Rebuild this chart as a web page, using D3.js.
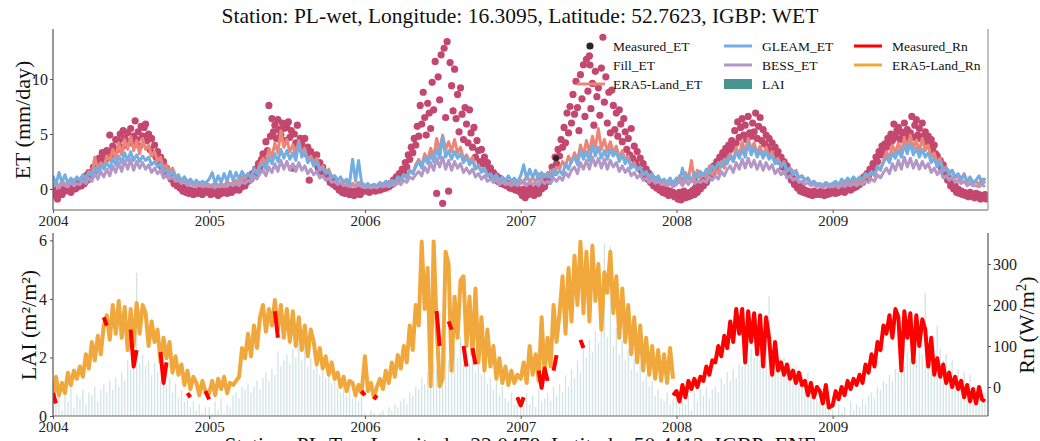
<!DOCTYPE html>
<html><head><meta charset="utf-8">
<script src="https://cdn.jsdelivr.net/npm/d3@7"></script>
<style>body{margin:0;background:#fff}svg{display:block}</style>
</head><body><svg id="c" width="1040" height="441"></svg>
<script>
const N = null;
const years = [2004, 2005, 2006, 2007, 2008, 2009];
const etTicks = [0, 5, 10];
const laiTicks = [0, 2, 4, 6];
const rnTicks = [0, 100, 200, 300];
const titleText = "Station: PL-wet, Longitude: 16.3095, Latitude: 52.7623, IGBP: WET";
const nextTitleText = "Station: PL-Tcz, Longitude: 22.0478, Latitude: 50.4412, IGBP: ENF";

// weekly values, 52 per year (2004..2009)
const era5ET = [
0.3,0.6,0.2,0.8,0.4,0.5,0.9,0.6,1.0, 0.8,1.2,0.9,1.6, 1.3,2.9,1.8,2.4,2.0, 3.0,2.6,3.6,2.8, 4.2,3.1,4.5,3.6, 4.8,3.5,4.4,3.2,4.6, 3.6,4.0,3.0,3.4, 2.5,2.9,1.9,2.2, 1.6,1.9,1.2,1.0, 0.8,1.1,0.6,0.7,0.5, 0.4,0.6,0.3,0.5,
0.4,0.2,0.6,0.3,0.5,0.2,0.7,0.4,0.6, 0.8,0.5,1.1,0.9, 1.4,1.0,1.8,1.5,2.3, 2.8,2.2,3.6,2.9, 4.2,3.3,5.3,3.8, 4.5,3.4,4.0,3.1,4.4, 3.2,3.7,2.6,3.0, 2.4,2.8,1.8,2.1, 1.5,1.8,1.1,1.2, 0.8,1.0,0.6,0.7,0.4, 0.5,0.3,0.6,0.4,
0.2,0.4,0.1,0.3,0.2,0.5,0.3,0.6,0.4, 0.7,0.5,1.0,0.8, 1.3,1.0,1.7,1.4,2.2, 2.7,2.1,3.2,2.6, 3.7,2.9,4.6,3.5, 4.9,3.6,4.3,3.4,4.5, 3.3,3.8,2.7,3.1, 2.5,2.9,1.9,2.2, 1.6,1.9,1.2,1.3, 0.9,1.1,0.7,0.8,0.5, 0.6,0.4,0.7,0.5,
0.8,0.5,1.2,0.7,1.0,0.6,1.4,0.9,1.3, 1.1,1.7,1.3,2.0, 1.8,2.5,2.1,3.0,2.4, 3.3,2.6,4.0,3.1, 4.4,3.3,4.8,3.7, 5.5,3.6,4.5,3.4,4.3, 3.3,3.9,2.8,3.5, 2.6,3.0,2.0,2.4, 1.7,2.0,1.3,1.5, 1.0,1.3,0.8,0.9,0.6, 0.7,0.5,0.8,0.4,
0.6,1.2,0.7,1.5,0.9,2.6,0.8,1.7,1.0, 1.4,1.0,2.1,1.3, 1.8,1.4,2.5,1.9,2.8, 3.2,2.5,3.8,3.0, 4.3,3.3,4.6,3.6, 4.2,3.2,3.9,3.0,3.8, 2.9,3.4,2.4,2.8, 2.1,2.5,1.6,1.9, 1.4,1.7,1.0,1.2, 0.8,1.0,0.5,0.7,0.4, 0.5,0.3,0.6,0.3,
0.3,0.5,0.2,0.6,0.4,0.7,0.3,0.8,0.5, 0.9,0.6,1.2,1.0, 1.5,1.2,2.0,1.7,2.6, 3.4,2.8,4.0,3.3, 4.2,3.4,4.7,3.6, 4.9,3.7,4.4,3.4,4.6, 3.5,4.0,2.9,3.3, 2.4,2.8,1.7,2.0, 1.4,1.7,1.0,1.2, 0.8,1.4,0.6,0.9,0.5, 0.7,0.4,0.9,0.5
];
const gleamET = [
1.2,0.4,1.5,0.6,1.3,0.5,1.0,0.7,1.1, 0.8,1.3,1.0,1.5, 1.2,1.9,1.5,2.2,1.8, 2.4,1.9,2.8,2.2, 3.0,2.4,3.3,2.6, 3.4,2.6,3.1,2.5,3.0, 2.6,2.9,2.2,2.5, 2.0,2.3,1.5,1.8, 1.2,1.6,1.0,1.3, 0.7,1.1,0.6,0.9,0.5, 0.8,0.4,0.7,0.5,
0.9,1.5,0.5,1.2,0.6,1.4,0.7,1.6,0.8, 1.5,0.9,1.6,1.1, 1.4,1.0,1.9,1.4,2.0, 2.4,1.8,2.9,2.3, 3.2,2.5,3.6,2.8, 3.5,2.7,3.3,2.6,4.2, 2.9,3.4,2.4,2.8, 2.1,2.5,1.7,1.9, 1.4,1.6,1.0,1.2, 0.8,1.1,0.6,0.9,0.5, 2.7,0.7,2.6,0.6,
0.3,0.5,0.2,0.4,0.3,0.6,0.4,0.7,0.5, 0.8,0.6,1.1,0.9, 1.3,1.0,1.7,1.4,2.0, 2.5,1.9,2.9,2.3, 3.1,2.5,3.7,2.8, 4.8,2.9,3.5,2.7,3.4, 2.8,3.2,2.4,2.9, 2.2,2.6,1.8,2.1, 1.5,1.9,1.2,1.4, 1.0,1.3,0.8,1.1,0.7, 1.2,0.7,1.0,0.6,
1.2,2.2,0.9,1.8,1.0,1.7,0.8,1.5,1.1, 1.4,1.0,1.8,1.3, 1.7,1.3,2.3,1.8,2.6, 2.9,2.2,3.5,2.7, 3.4,2.6,4.0,3.0, 3.8,2.8,3.5,2.7,3.6, 3.0,3.4,2.5,3.1, 2.3,2.8,1.9,2.2, 1.7,2.0,1.3,1.6, 1.1,1.4,0.8,1.2,0.7, 0.9,0.6,1.0,0.5,
1.0,0.6,1.9,0.8,1.3,0.7,1.5,1.0,1.6, 1.2,1.8,1.4,2.1, 1.8,2.4,2.0,2.7,2.3, 3.0,2.5,3.4,2.8, 3.6,2.9,4.2,3.1, 3.8,2.9,3.5,2.8,3.4, 2.7,3.1,2.3,2.6, 2.0,2.4,1.6,1.9, 1.3,1.6,1.0,1.2, 0.8,1.0,0.5,0.7,0.4, 0.5,0.3,0.6,0.4,
0.5,0.7,0.4,0.9,0.6,1.0,0.7,1.1,0.8, 1.1,0.9,1.4,1.2, 1.6,1.3,2.1,1.8,2.4, 2.9,2.4,3.3,2.8, 3.5,2.9,4.0,3.2, 4.2,3.1,3.7,2.9,3.6, 2.9,3.3,2.4,2.8, 2.0,2.5,1.6,1.9, 1.3,1.7,1.1,1.4, 0.9,1.3,0.7,1.1,0.6, 0.8,1.2,0.5,1.0
];
const bessET = [
0.2,0.4,0.1,0.5,0.3,0.2,0.6,0.3,0.5, 0.4,0.8,0.5,1.0, 0.7,1.4,0.9,1.6,1.1, 1.8,1.2,2.1,1.5, 2.4,1.6,2.6,1.8, 2.7,1.7,2.5,1.9,2.4, 1.8,2.2,1.5,1.9, 1.4,1.7,1.0,1.3, 0.9,1.1,0.7,0.8, 0.5,0.7,0.3,0.5,0.3, 0.2,0.4,0.2,0.3,
0.2,0.4,0.1,0.3,0.2,0.4,0.2,0.5,0.3, 0.5,0.3,0.7,0.5, 0.8,0.6,1.2,0.9,1.4, 1.7,1.2,2.0,1.5, 2.3,1.6,2.6,1.8, 2.5,1.7,2.3,1.6,2.4, 1.7,2.1,1.4,1.8, 1.3,1.6,1.0,1.2, 0.8,1.0,0.6,0.7, 0.4,0.6,0.3,0.4,0.2, 0.3,0.2,0.4,0.2,
0.1,0.2,0.1,0.2,0.1,0.3,0.2,0.3,0.2, 0.4,0.3,0.6,0.4, 0.8,0.6,1.1,0.9,1.3, 1.6,1.2,2.0,1.5, 2.4,1.7,2.8,2.0, 2.9,1.8,2.6,1.7,2.5, 1.9,2.3,1.5,1.9, 1.4,1.8,1.1,1.4, 0.9,1.2,0.7,0.9, 0.6,0.8,0.4,0.6,0.4, 0.5,0.3,0.5,0.3,
0.5,0.8,0.3,0.7,0.4,0.6,0.3,0.8,0.5, 0.7,0.5,1.0,0.7, 1.1,0.8,1.5,1.1,1.7, 2.0,1.4,2.4,1.8, 2.6,1.8,2.9,2.1, 2.8,1.9,2.7,1.8,2.6, 2.0,2.4,1.6,2.1, 1.5,1.9,1.2,1.5, 1.0,1.3,0.8,1.0, 0.6,0.9,0.5,0.7,0.4, 0.4,0.3,0.5,0.2,
0.4,0.7,0.3,0.8,0.4,0.9,0.5,0.7,0.6, 0.8,0.6,1.1,0.8, 1.2,0.9,1.6,1.2,1.8, 2.1,1.5,2.4,1.8, 2.7,1.9,2.8,2.0, 2.6,1.8,2.5,1.7,2.4, 1.8,2.2,1.4,1.8, 1.3,1.6,1.0,1.2, 0.8,1.0,0.6,0.7, 0.4,0.6,0.3,0.4,0.2, 0.3,0.1,0.3,0.2,
0.2,0.3,0.1,0.4,0.2,0.4,0.3,0.5,0.3, 0.5,0.4,0.7,0.6, 0.9,0.7,1.3,1.0,1.5, 1.9,1.4,2.3,1.7, 2.6,1.8,2.9,2.0, 2.8,1.9,2.6,1.8,2.5, 1.9,2.3,1.5,1.9, 1.3,1.7,1.0,1.2, 0.8,1.1,0.6,0.8, 0.5,0.7,0.3,0.5,0.3, 0.3,0.2,0.4,0.2
];
// half-weekly values, 104 per year
const fillET = [
0.1,-0.4,-0.6,-0.9,-0.3,0.0,-0.5,0.2,-0.2,-0.1, 0.0,0.3,-0.3,0.1,0.4,0.0,0.5,0.2, 0.6,0.3,0.9,0.5,1.2,0.8,1.5,1.0, 1.3,2.0,1.6,2.5,1.9,2.8,2.2,3.3,2.6,3.0, 3.5,2.8,4.9,3.4,3.9,3.1,4.5,3.6, 4.4,5.0,3.8,5.3,4.6,4.0,5.1,4.3, 5.5,4.2,4.8,6.2,4.5,5.2,3.9,5.7,4.8,5.6, 5.9,4.4,5.0,3.6,4.6,3.2,4.0,2.9, 3.4,2.4,2.9,2.0,2.5,1.6,1.9,1.3, 1.4,0.9,1.1,0.5,0.8,0.3,0.5,0.1, 0.2,-0.2,0.1,-0.3,0.0,-0.4,-0.1,-0.2,-0.5,-0.3, -0.2,-0.4,-0.1,-0.3,-0.5,-0.2,-0.3,-0.1,
-0.2,-0.5,-0.1,-0.4,0.0,-0.3,-0.6,-0.2,-0.4,-0.1, -0.3,0.0,-0.4,-0.2,0.1,-0.3,0.0,-0.1, 0.1,0.3,-0.1,0.4,0.2,0.6,0.3,0.8, 0.7,1.1,0.9,1.4,1.2,1.8,1.5,2.3,2.0,2.7, 3.2,2.6,4.3,3.5,7.6,4.8,6.4,5.2, 5.8,4.6,6.3,5.4,4.9,6.0,5.5,4.4, 5.6,6.1,4.7,5.3,1.9,5.0,4.2,5.8,3.8,4.6, 4.1,3.5,4.6,3.2,3.8,0.8,3.4,2.9, 2.8,2.3,3.1,1.9,2.4,1.6,2.0,1.3, 1.5,1.0,1.2,0.6,0.9,0.4,0.6,0.2, 0.3,-0.1,0.2,-0.3,0.0,-0.4,-0.1,-0.3,-0.5,-0.2, -0.3,-0.6,-0.2,-0.4,-0.1,-0.5,-0.3,0.0,
0.0,-0.2,0.1,-0.3,0.0,-0.1,0.2,-0.2,0.0,0.1, -0.1,0.2,0.0,0.3,0.1,0.4,0.2,0.5, 0.4,0.8,0.6,1.1,0.9,1.4,1.2,1.8, 1.6,2.4,2.0,3.1,2.7,3.8,3.3,4.6,4.0,5.7, 4.8,7.6,5.9,8.8,6.5,4.9,7.8,6.9, 5.5,9.7,7.2,11.6,-0.4,10.2,8.1,12.2, -1.3,12.8,6.5,13.4,-0.2,11.5,9.4,7.1,10.9,6.4, 8.6,5.2,9.2,6.8,4.5,7.4,5.9,4.2, 7.2,5.1,3.8,5.6,2.9,4.4,3.5,2.5, 3.6,2.3,2.9,1.8,2.4,1.5,1.9,1.2, 1.5,0.9,1.2,0.7,1.0,0.5,0.8,0.4,0.6,0.3, 0.5,0.1,0.3,0.0,0.2,-0.1,0.1,-0.2,
-0.3,-0.6,0.0,-0.8,-0.2,-0.5,0.1,-0.4,-0.1,-0.6, -0.2,0.1,-0.4,0.3,0.0,0.6,0.2,0.9, 0.7,1.3,1.0,2.0,1.5,2.9,2.3,3.6, 3.0,4.5,3.8,5.6,4.2,6.9,5.1,7.5,6.0,8.6, 6.8,9.8,7.4,5.3,10.4,8.2,11.3,6.6, 11.8,8.9,12.1,7.3,9.6,5.8,10.7,8.4, 9.2,6.7,11.0,13.8,7.9,10.2,6.0,8.8,5.1,9.0, 7.6,5.4,6.9,4.8,7.2,5.9,4.3,6.4, 5.2,3.6,4.6,3.1,5.5,2.8,3.9,2.4, 3.4,2.0,2.8,1.6,2.3,1.2,1.8,0.9, 1.4,0.6,1.0,0.3,0.8,0.1,0.5,-0.1,0.3,-0.3, 0.0,-0.4,-0.1,-0.6,-0.2,-0.5,-0.3,-0.7,
-0.5,-0.9,-0.3,-1.0,-0.6,-0.2,-0.8,-0.4,-0.7,-0.3, -0.6,-0.1,-0.5,0.2,-0.3,0.4,0.0,0.6, 0.3,0.9,0.6,1.3,1.0,1.7,1.3,2.1, 1.8,2.5,2.1,2.9,2.4,3.3,2.8,3.7,3.2,4.0, 3.6,4.4,3.9,5.3,4.2,6.1,4.7,5.6, 6.4,4.9,5.8,4.5,6.6,5.1,4.8,6.0, 5.2,6.9,4.6,5.7,6.5,4.4,5.4,4.1,4.9,3.8, 4.6,3.5,4.2,3.1,3.8,2.8,3.4,2.5, 2.9,2.0,2.5,1.6,2.1,1.2,1.6,0.8, 1.0,0.4,0.6,0.1,0.3,-0.2,0.1,-0.3, -0.1,-0.4,-0.2,-0.5,-0.3,-0.6,-0.2,-0.5,-0.4,-0.3, -0.5,-0.2,-0.4,-0.6,-0.3,-0.5,-0.2,-0.4,
-0.2,0.0,-0.4,-0.1,-0.3,0.1,-0.2,0.0,-0.3,0.2, 0.0,0.3,-0.1,0.4,0.1,0.5,0.2,0.6, 0.4,0.8,0.6,1.1,0.9,1.4,1.2,1.8, 1.6,2.3,2.0,2.9,2.5,3.4,3.1,3.9,3.5,4.1, 3.8,4.6,4.2,5.0,4.4,5.9,4.8,5.3, 5.6,4.5,5.2,4.9,6.0,4.6,5.4,4.8, 5.1,6.6,4.7,5.8,6.3,4.9,5.5,4.6,6.0,4.8, 5.2,4.3,4.8,3.9,4.5,3.5,4.0,3.2, 3.0,2.3,2.6,1.8,2.2,1.3,1.6,0.8, 1.0,0.3,0.6,0.0,0.3,-0.3,0.0,-0.4, -0.2,-0.5,-0.3,-0.6,-0.4,-0.7,-0.3,-0.6,-0.5,-0.8, -0.4,-0.7,-0.5,-0.9,-0.6,-0.8,-0.5,-0.9
];
const measuredETDates = ["2007-03-25", "2008-02-12"];
const measuredETValues = [2.8, 0.9];

// weekly LAI, 52 per year
const lai = [
0.9,0.4,1.1,0.2,0.8,0.5,1.0,0.3,0.7, 0.6,0.9,0.4,0.8, 0.7,1.0,0.5,0.9,1.1, 0.8,1.2,0.9,1.3, 1.0,1.5,1.2,1.9, 1.6,2.0,4.9,1.8,2.1, 1.7,1.9,1.4,1.8, 1.5,1.2,1.6,1.0, 1.3,0.8,1.1,0.6, 0.9,0.5,0.7,0.3,0.5, 0.2,0.4,0.1,0.3,
0.3,0.1,0.5,0.2,0.6,0.1,0.4,0.3,0.7, 0.8,0.6,1.0,0.9, 1.1,0.8,1.0,1.2,0.9, 1.3,1.5,1.2,1.6, 1.4,2.2,1.7,1.9, 2.1,1.8,2.3,2.0,3.3, 1.9,2.8,1.7,2.0, 1.6,1.9,1.4,1.7, 1.3,1.5,1.1,1.4, 1.0,0.8,1.1,0.7,0.9, 0.6,0.8,0.5,0.7,
0.1,0.0,0.2,0.1,0.0,0.1,0.2,0.0,0.3, 0.2,0.4,0.3,0.5, 0.6,0.4,0.8,0.7,1.0, 0.9,1.3,1.1,1.5, 1.4,1.8,1.6,2.4, 2.1,2.6,1.9,3.3,2.3, 2.0,2.7,2.2,3.2, 1.8,2.1,1.5,1.9, 1.4,1.7,1.1,1.3, 0.9,1.2,0.7,1.0,0.6, 0.5,0.8,0.4,0.6,
0.5,0.3,0.8,0.4,0.7,0.3,0.9,0.5,0.6, 0.8,0.5,1.0,0.7, 1.1,0.8,1.4,1.0,1.6, 1.3,1.9,1.5,2.3, 2.0,2.6,2.2,2.9, 2.5,3.1,5.9,2.7,5.8, 2.4,3.0,2.1,2.6, 1.9,2.3,1.6,2.0, 1.5,1.8,1.2,1.4, 1.0,1.2,0.7,0.9,0.6, 0.5,0.8,0.4,0.6,
0.6,0.3,0.9,0.4,0.7,0.2,0.8,0.5,0.9, 0.7,1.0,0.6,0.9, 1.0,0.8,1.3,1.1,1.5, 1.2,1.6,1.3,1.8, 1.7,2.1,1.8,2.3, 2.0,2.4,1.9,2.2,2.5, 4.1,2.3,2.6,2.0, 1.8,2.0,1.5,1.8, 1.4,1.7,1.1,1.5, 0.9,1.5,0.7,1.0,0.6, 0.5,0.8,0.3,0.6,
0.2,0.0,0.4,0.1,0.3,0.0,0.5,0.2,0.4, 0.3,0.6,0.4,0.7, 0.8,0.6,1.0,0.9,1.2, 1.1,1.4,1.2,1.6, 1.5,1.9,1.7,2.2, 2.0,2.4,1.9,2.3,2.1, 4.2,2.2,2.6,2.0, 3.1,2.3,1.9,2.1, 1.6,1.9,1.3,1.6, 1.1,1.5,0.9,1.4,0.8, 0.7,1.0,0.5,0.8
];
// weekly ERA5-Land Rn, 2004..2007
const era5Rn = [
-40,25,-20,10,-15,35,5,40,20, 50,25,80,45, 110,65,125,80,150, 175,115,200,130, 210,120,195,90, 190,100,205,130,200, 180,100,160,110, 140,60,120,70, 110,35,75,30, 55,5,40,-5,25, 10,-20,15,-10,
-15,15,-20,20,-5,25,-15,10,5, 15,25,95,70, 130,75,150,95,170, 200,135,190,150, 212,140,200,120, 190,110,185,100,170, 90,150,75,140, 110,55,95,45, 75,30,60,20, 35,0,25,-10,15, 10,-20,5,-15,
75,-10,10,-25,0,20,-5,40,10, 60,25,78,45, 100,60,150,90,200, 150,355,190,290, 2,355,150,2, 20,330,300,40,220, 120,260,270,100, 220,80,240,60, 170,40,140,50, 100,20,70,10,50, 5,40,10,30,
20,60,10,100,30,80,15,170,30, 120,50,200,110, 180,270,130,290,160, 320,200,354,180, 330,160,345,210, 300,140,280,230,330, 180,270,120,240, 110,200,80,170, 60,150,40,120, 30,100,20,90,15, 80,10,95,20
];
// weekly measured Rn, 2004..2009 (null = missing)
const measuredRn = [
-15,-40,N,N,N,N,N,N,N, N,N,N,N, N,N,N,N,170, 150,N,N,N, N,N,N,N, 140,50,90,N,N, N,N,N,N, N,85,10,60, N,N,N,N, N,N,-15,-25,N, N,N,N,-10,
-30,N,N,N,N,N,N,N,N, N,N,N,N, N,N,N,N,N, N,N,N,N, 185,120,N,N, N,N,N,N,N, N,N,N,N, N,N,N,N, N,N,N,N, N,N,N,N,N, N,N,N,-10,
-20,N,N,-30,-20,N,N,N,N, N,N,N,N, N,N,N,N,N, N,N,N,N, N,N,185,100, N,N,160,140,N, N,N,100,50, N,95,55,N, N,N,N,N, N,N,N,N,N, N,N,N,-25,
-45,-25,N,N,N,N,40,-2,45, 15,N,40,78, N,N,N,N,N, N,N,115,95, N,N,N,N, N,N,N,N,N, N,N,N,N, N,N,N,N, N,N,N,N, N,N,N,N,N, N,N,N,-20,
-10,-35,5,-25,15,-5,20,0,25, 15,50,30,65, 60,100,75,125,95, 160,110,190,130, 190,60,185,110, 180,80,175,50,170, 120,30,110,40, 60,30,55,20, 40,10,35,5, 15,-20,10,-25,0, -10,-40,5,-50,
-45,-10,-30,0,-20,15,-5,20,5, 30,10,55,35, 80,50,110,90,150, 130,175,120,190, 170,40,185,120, 180,60,175,100,165, 140,50,120,30, 70,25,55,10, 35,0,25,-5, 15,-25,5,-35,-5, -40,0,-30,-35
];

const C = {
  fill: "#c4476f", measured: "#262626", era5ET: "#ec8576", gleam: "#74ade0",
  bess: "#b397c6", lai: "#4a948f", mRn: "#ff0000", eRn: "#f0a83c"
};
const serif = "'Liberation Serif','Times New Roman',serif";

const svg = d3.select("#c");
const x = d3.scaleUtc().domain([Date.UTC(2004,0,1), Date.UTC(2009,11,31)]).range([53, 988]);
const yET = d3.scaleLinear().domain([-1.91, 14.55]).range([210, 29]);
const yLAI = d3.scaleLinear().domain([0, 6.25]).range([416, 233]);
const yRn = d3.scaleLinear().domain([-70.7, 375.6]).range([416, 233]);

const wk = i => new Date(Date.UTC(years[Math.floor(i/52)], 0, 1 + 7*(i%52)));
const hw = i => new Date(Date.UTC(years[Math.floor(i/104)], 0, 1) + (i%104)*3.5*864e5);

const defs = svg.append("defs");
defs.append("clipPath").attr("id","cpT").append("rect").attr("x",53).attr("y",29).attr("width",935).attr("height",181);
defs.append("clipPath").attr("id","cpB").append("rect").attr("x",53).attr("y",233).attr("width",935).attr("height",183);

// ---------- top panel ----------
const gT = svg.append("g").attr("clip-path","url(#cpT)");
gT.append("g").selectAll("circle").data(fillET).join("circle")
  .attr("cx",(d,i)=>x(hw(i))).attr("cy",d=>yET(d)).attr("r",3.6).attr("fill",C.fill);
gT.append("g").selectAll("circle").data(measuredETValues).join("circle")
  .attr("cx",(d,i)=>x(new Date(measuredETDates[i]+"T00:00:00Z"))).attr("cy",d=>yET(d)).attr("r",3).attr("fill",C.measured);
const lineET = d3.line().x((d,i)=>x(wk(i))).y(d=>yET(d));
[[era5ET,C.era5ET],[gleamET,C.gleam],[bessET,C.bess]].forEach(([arr,col])=>{
  gT.append("path").datum(arr).attr("d",lineET).attr("fill","none").attr("stroke",col)
    .attr("stroke-width",3).attr("stroke-linejoin","round");
});

// ---------- bottom panel ----------
const gB = svg.append("g").attr("clip-path","url(#cpB)");
gB.append("g").selectAll("rect").data(lai).join("rect")
  .attr("x",(d,i)=>x(wk(i))-0.65).attr("width",1.3)
  .attr("y",d=>yLAI(d)).attr("height",d=>yLAI(0)-yLAI(d))
  .attr("fill",C.lai).attr("fill-opacity",0.25);
const lineRn = d3.line().defined(d=>d!=null).x((d,i)=>x(wk(i))).y(d=>yRn(d));
gB.append("path").datum(era5Rn).attr("d",lineRn).attr("fill","none").attr("stroke",C.eRn)
  .attr("stroke-width",4).attr("stroke-linejoin","round");
gB.append("path").datum(measuredRn).attr("d",lineRn).attr("fill","none").attr("stroke",C.mRn)
  .attr("stroke-width",4).attr("stroke-linejoin","round");

// ---------- axes ----------
function styleAxis(g, size){
  g.select(".domain").remove();
  g.selectAll(".tick line").attr("stroke","#555");
  g.selectAll(".tick text").attr("font-family",serif).attr("font-size",size).attr("fill","#222");
}
const yearTicks = years.map(y=>new Date(Date.UTC(y,0,1)));
[[210],[416]].forEach(([yy])=>{
  const g = svg.append("g").attr("transform",`translate(0,${yy})`)
    .call(d3.axisBottom(x).tickValues(yearTicks).tickFormat(d3.utcFormat("%Y")).tickSize(3).tickPadding(2));
  styleAxis(g, 15);
});
svg.append("g").attr("transform","translate(53,0)")
  .call(d3.axisLeft(yET).tickValues(etTicks).tickFormat(d3.format("d")).tickSize(3).tickPadding(2))
  .call(g=>styleAxis(g,16));
svg.append("g").attr("transform","translate(53,0)")
  .call(d3.axisLeft(yLAI).tickValues(laiTicks).tickFormat(d3.format("d")).tickSize(3).tickPadding(3))
  .call(g=>styleAxis(g,16));
svg.append("g").attr("transform","translate(988,0)")
  .call(d3.axisRight(yRn).tickValues(rnTicks).tickFormat(d3.format("d")).tickSize(3).tickPadding(2))
  .call(g=>styleAxis(g,16));

// spines
const sp = (x1,y1,x2,y2,c)=>svg.append("line").attr("x1",x1).attr("y1",y1).attr("x2",x2).attr("y2",y2).attr("stroke",c).attr("stroke-width",1.2);
sp(53,29,53,210,"#555"); sp(53,210,988,210,"#666"); sp(988,29,988,210,"#999");
sp(53,233,53,416,"#555"); sp(53,416,988,416,"#666"); sp(988,233,988,416,"#555");

// labels
svg.append("text").attr("x",520).attr("y",23).attr("text-anchor","middle")
  .attr("font-family",serif).attr("font-size",21.5).attr("fill","#111").text(titleText);
svg.append("text").attr("x",520).attr("y",452).attr("text-anchor","middle")
  .attr("font-family",serif).attr("font-size",21.5).attr("fill","#111").text(nextTitleText);
svg.append("text").attr("transform","translate(30,120) rotate(-90)").attr("text-anchor","middle")
  .attr("font-family",serif).attr("font-size",22).attr("fill","#111").text("ET (mm/day)");
svg.append("text").attr("transform","translate(36,325) rotate(-90)").attr("text-anchor","middle")
  .attr("font-family",serif).attr("font-size",22).attr("fill","#111").text("LAI (m²/m²)");
const rl = svg.append("text").attr("transform","translate(1034,325) rotate(-90)").attr("text-anchor","middle")
  .attr("font-family",serif).attr("font-size",22).attr("fill","#111");
rl.append("tspan").text("Rn (W/m");
rl.append("tspan").attr("dy",-8).attr("font-size",15).text("2");
rl.append("tspan").attr("dy",8).text(")");

// legend
const lg = svg.append("g").attr("font-family",serif).attr("font-size",13.5).attr("fill","#111");
const rowsY = [46, 65, 84];
lg.append("circle").attr("cx",590).attr("cy",rowsY[0]).attr("r",3.6).attr("fill",C.measured);
lg.append("circle").attr("cx",590).attr("cy",rowsY[1]).attr("r",3.6).attr("fill",C.fill);
lg.append("line").attr("x1",577).attr("x2",605).attr("y1",rowsY[2]).attr("y2",rowsY[2]).attr("stroke",C.era5ET).attr("stroke-width",3);
[["Measured_ET",0],["Fill_ET",1],["ERA5-Land_ET",2]].forEach(([t,r])=>lg.append("text").attr("x",613).attr("y",rowsY[r]+4.5).text(t));
lg.append("line").attr("x1",724).attr("x2",752).attr("y1",rowsY[0]).attr("y2",rowsY[0]).attr("stroke",C.gleam).attr("stroke-width",3);
lg.append("line").attr("x1",724).attr("x2",752).attr("y1",rowsY[1]).attr("y2",rowsY[1]).attr("stroke",C.bess).attr("stroke-width",3);
lg.append("rect").attr("x",724).attr("y",rowsY[2]-5).attr("width",28).attr("height",10).attr("fill",C.lai);
[["GLEAM_ET",0],["BESS_ET",1],["LAI",2]].forEach(([t,r])=>lg.append("text").attr("x",762).attr("y",rowsY[r]+4.5).text(t));
lg.append("line").attr("x1",854).attr("x2",882).attr("y1",rowsY[0]).attr("y2",rowsY[0]).attr("stroke",C.mRn).attr("stroke-width",3);
lg.append("line").attr("x1",854).attr("x2",882).attr("y1",rowsY[1]).attr("y2",rowsY[1]).attr("stroke",C.eRn).attr("stroke-width",3);
[["Measured_Rn",0],["ERA5-Land_Rn",1]].forEach(([t,r])=>lg.append("text").attr("x",892).attr("y",rowsY[r]+4.5).text(t));
</script>
</body></html>
